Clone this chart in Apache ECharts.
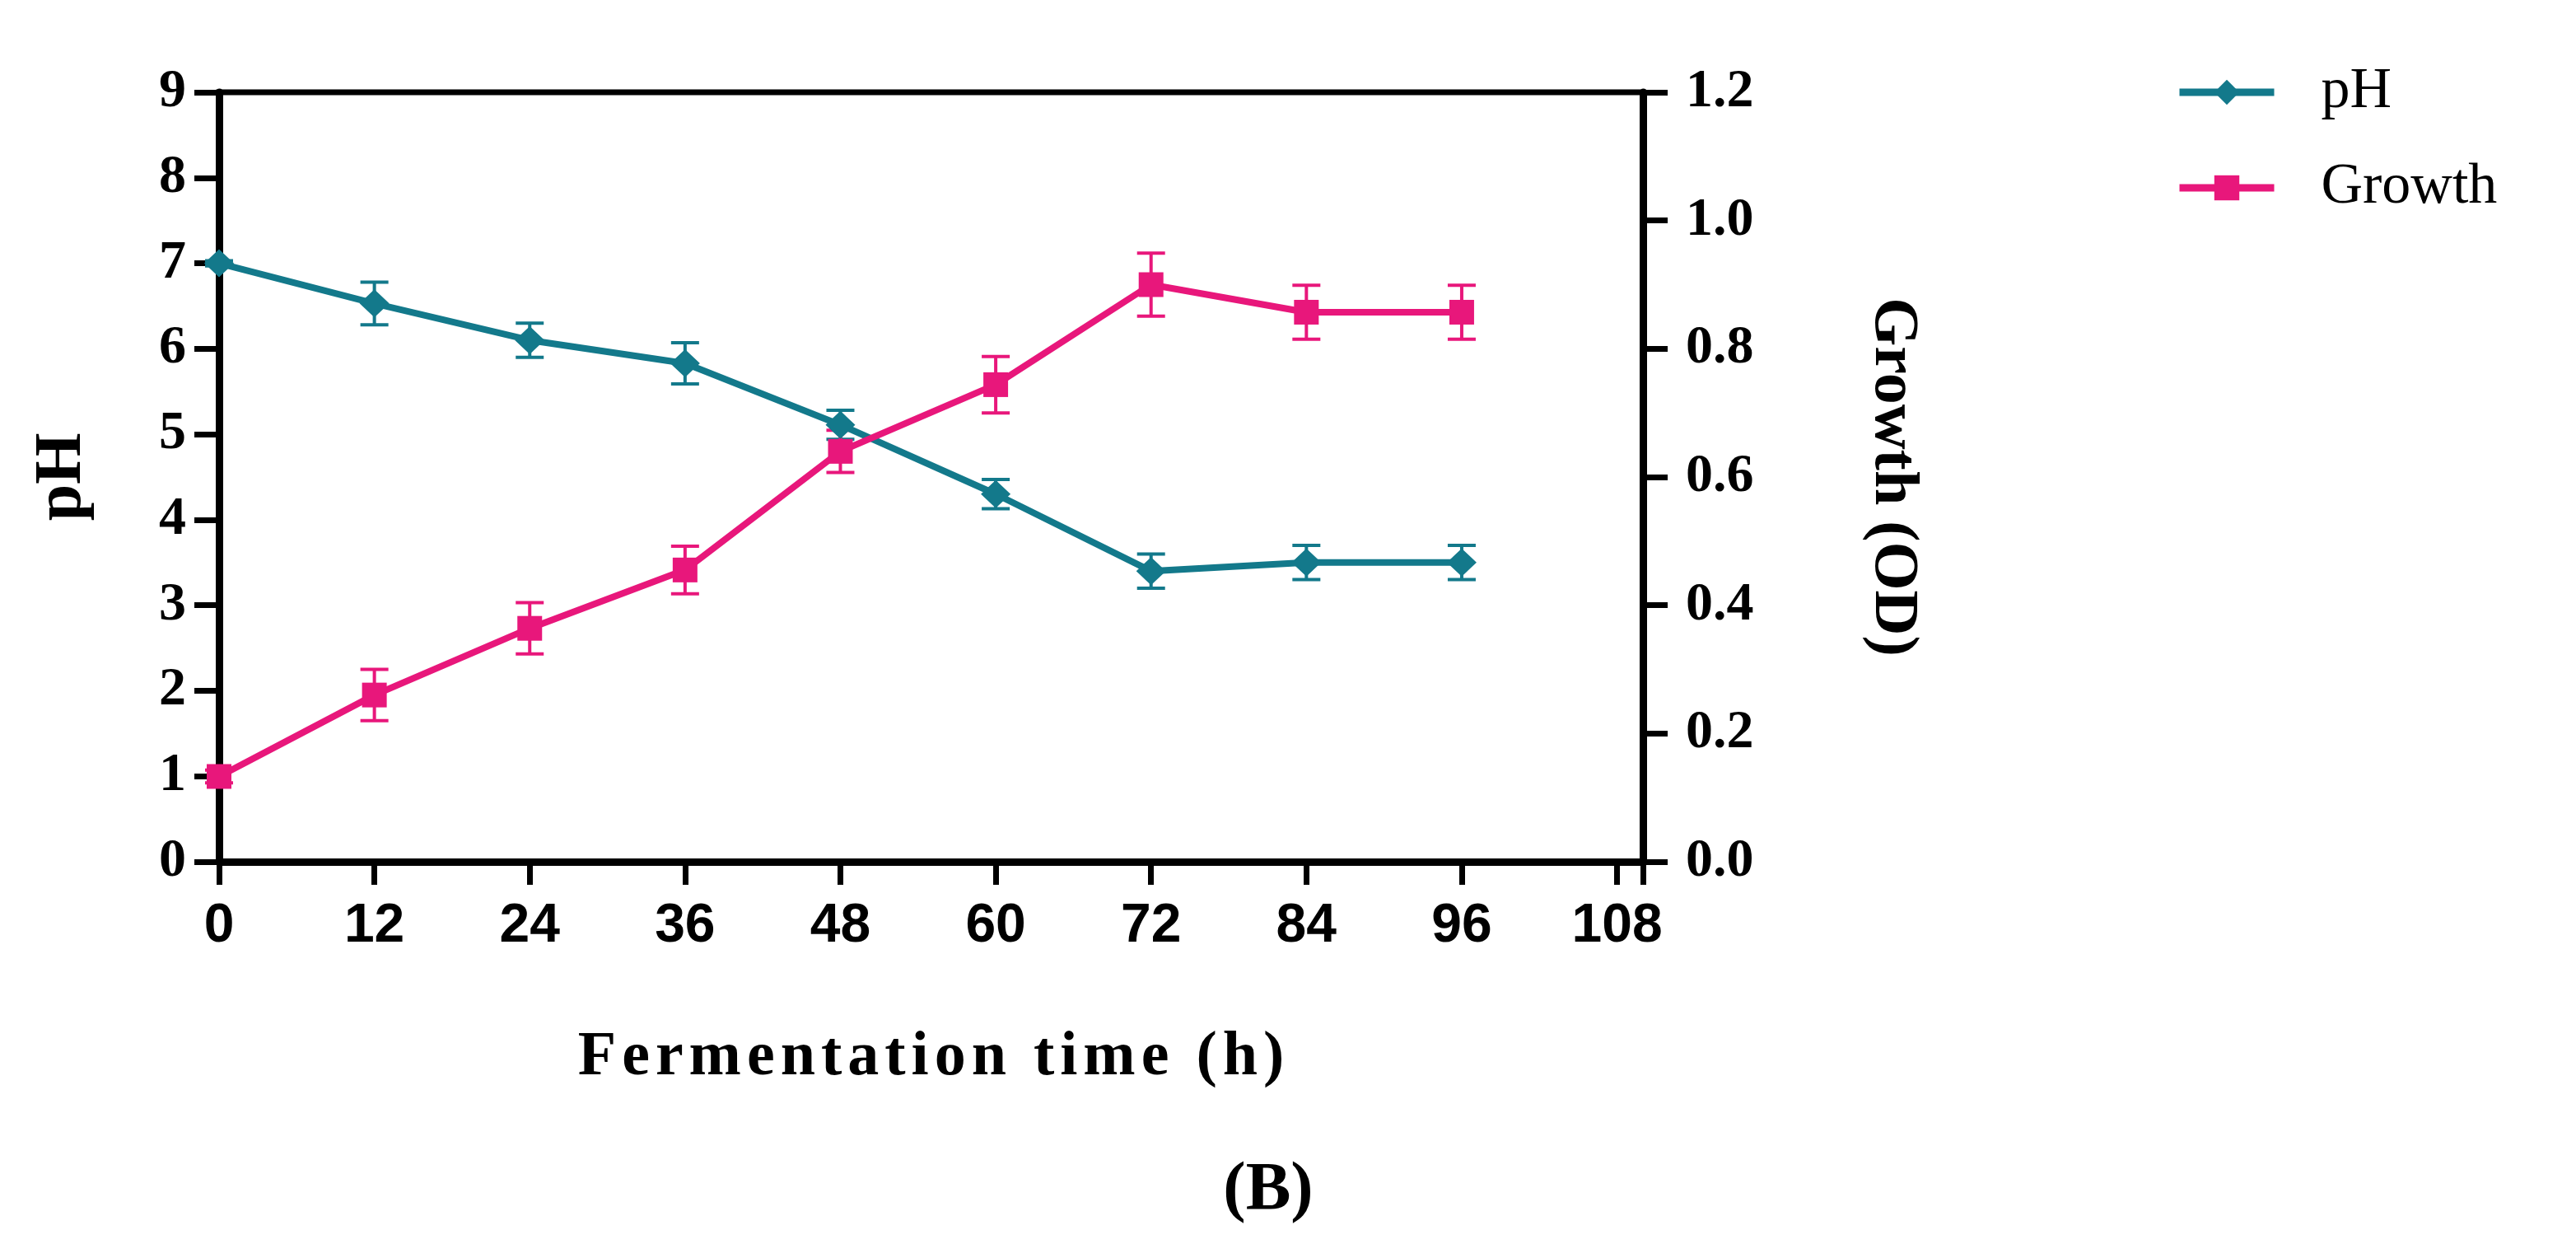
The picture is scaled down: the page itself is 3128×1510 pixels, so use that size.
<!DOCTYPE html>
<html>
<head>
<meta charset="utf-8">
<script src="https://cdn.jsdelivr.net/npm/echarts@6/dist/echarts.min.js"></script>
<style>
  html, body { margin: 0; padding: 0; background: #fff; }
  #chart { width: 3128px; height: 1510px; }
</style>
</head>
<body>
<div id="chart"></div>
<script>
// fermentation time (h)
const hours = [0, 12, 24, 36, 48, 60, 72, 84, 96];
// pH, left axis
const phMean = [7.0, 6.53, 6.1, 5.83, 5.11, 4.3, 3.4, 3.5, 3.5];
const phErr = [0.03, 0.25, 0.2, 0.24, 0.17, 0.17, 0.2, 0.2, 0.2];
// growth (OD), right axis
const growthMean = [0.133, 0.26, 0.364, 0.455, 0.64, 0.744, 0.9, 0.857, 0.857];
const growthErr = [0.01, 0.04, 0.04, 0.037, 0.033, 0.044, 0.049, 0.042, 0.042];

const xTitle = 'Fermentation time (h)';

const phColor = '#13798b';
const growthColor = '#e8177b';
const serif = '"Liberation Serif", "Times New Roman", serif';
const sans = '"Liberation Sans", Arial, sans-serif';

function pairs(xs, ys) {
  return xs.map((x, i) => [x, ys[i]]);
}

function errorRows(xs, mean, err) {
  return xs.map((x, i) => [x, mean[i] - err[i], mean[i] + err[i]]);
}

// spaced-out title: every character is its own rich token with a little padding
function spaced(text) {
  return text.split('').map(ch => '{c|' + ch + '}').join('');
}

function errorBar(color) {
  return function (params, api) {
    const lo = api.coord([api.value(0), api.value(1)]);
    const hi = api.coord([api.value(0), api.value(2)]);
    const hw = 17;
    const style = { stroke: color, lineWidth: 4 };
    return {
      type: 'group',
      children: [
        { type: 'line', shape: { x1: hi[0], y1: hi[1], x2: lo[0], y2: lo[1] }, style: style },
        { type: 'line', shape: { x1: hi[0] - hw, y1: hi[1], x2: hi[0] + hw, y2: hi[1] }, style: style },
        { type: 'line', shape: { x1: lo[0] - hw, y1: lo[1], x2: lo[0] + hw, y2: lo[1] }, style: style }
      ]
    };
  };
}

const chart = echarts.init(document.getElementById('chart'));

const axisLineStyle = { color: '#000', width: 9 };
const tickStyle = { color: '#000', width: 7 };

chart.setOption({
  animation: false,
  backgroundColor: '#fff',
  grid: {
    left: 266, top: 112, width: 1729, height: 934,
    show: true, borderColor: '#000', borderWidth: 7,
    containLabel: false, outerBoundsMode: 'none'
  },
  legend: {
    orient: 'vertical',
    left: 2637, top: 72,
    itemWidth: 115, itemHeight: 38, itemGap: 46,
    lineStyle: { width: 9 },
    textStyle: { fontFamily: serif, fontSize: 70, color: '#000', lineHeight: 40, padding: [0, 0, 0, 52] },
    data: ['pH', 'Growth']
  },
  xAxis: {
    type: 'value', min: 0, max: 110, interval: 12,
    name: spaced(xTitle),
    nameLocation: 'middle', nameGap: 200,
    nameTextStyle: {
      rich: {
        c: { fontFamily: serif, fontWeight: 'bold', fontSize: 76, color: '#000', padding: [0, 3.5] }
      }
    },
    axisLine: { lineStyle: axisLineStyle },
    axisTick: { length: 28, lineStyle: tickStyle },
    axisLabel: {
      margin: 46, fontFamily: sans, fontWeight: 'bold', fontSize: 66, color: '#000',
      formatter: v => (v % 12 === 0 ? String(v) : '')
    },
    splitLine: { show: false }
  },
  yAxis: [
    {
      type: 'value', min: 0, max: 9, interval: 1, position: 'left',
      name: 'pH', nameLocation: 'middle', nameGap: 150, nameRotate: 90,
      nameTextStyle: { fontFamily: serif, fontWeight: 'bold', fontSize: 80, color: '#000' },
      axisLine: { show: true, lineStyle: axisLineStyle },
      axisTick: { show: true, length: 30, lineStyle: tickStyle },
      axisLabel: { margin: 40, fontFamily: serif, fontWeight: 'bold', fontSize: 66, color: '#000' },
      splitLine: { show: false }
    },
    {
      type: 'value', min: 0, max: 1.2, interval: 0.2, position: 'right',
      name: 'Growth (OD)', nameLocation: 'middle', nameGap: 265, nameRotate: -90,
      nameTextStyle: { fontFamily: serif, fontWeight: 'bold', fontSize: 76, color: '#000' },
      axisLine: { show: true, lineStyle: axisLineStyle },
      axisTick: { show: true, length: 30, lineStyle: tickStyle },
      axisLabel: {
        margin: 52, fontFamily: serif, fontWeight: 'bold', fontSize: 66, color: '#000',
        formatter: v => v.toFixed(1)
      },
      splitLine: { show: false }
    }
  ],
  title: {
    text: '{p|(}{b|B}{p|)}',
    left: 1535, top: 1400, textAlign: 'center',
    textStyle: {
      rich: {
        p: { fontFamily: serif, fontSize: 82, color: '#000' },
        b: { fontFamily: serif, fontSize: 82, fontWeight: 'bold', color: '#000' }
      }
    }
  },
  series: [
    {
      name: 'pH', type: 'line', yAxisIndex: 0,
      data: pairs(hours, phMean),
      symbol: 'diamond', symbolSize: [36, 34], clip: false, z: 3,
      itemStyle: { color: phColor },
      lineStyle: { color: phColor, width: 8 }
    },
    {
      name: 'Growth', type: 'line', yAxisIndex: 1,
      data: pairs(hours, growthMean),
      symbol: 'rect', symbolSize: 30, clip: false, z: 3,
      itemStyle: { color: growthColor },
      lineStyle: { color: growthColor, width: 8 }
    },
    {
      name: 'pH error', type: 'custom', yAxisIndex: 0, clip: false, z: 2,
      renderItem: errorBar(phColor),
      data: errorRows(hours, phMean, phErr)
    },
    {
      name: 'Growth error', type: 'custom', yAxisIndex: 1, clip: false, z: 2,
      renderItem: errorBar(growthColor),
      data: errorRows(hours, growthMean, growthErr)
    }
  ]
});
</script>
</body>
</html>
